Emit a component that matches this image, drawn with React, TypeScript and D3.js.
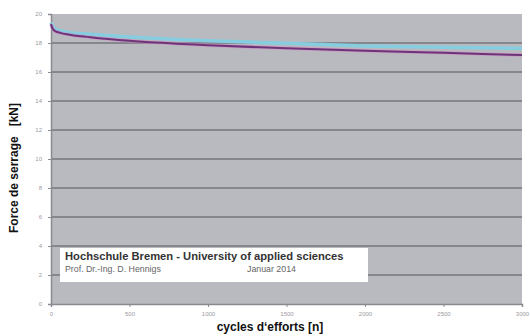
import { useEffect, useRef } from "react";
import * as d3 from "d3";

// data
const cycles = [0, 10, 30, 60, 100, 250, 500, 800, 1000, 1500, 2000, 2500, 3000];
const forcePurple = [19.3, 19.0, 18.8, 18.7, 18.6, 18.4, 18.15, 17.95, 17.85, 17.63, 17.47, 17.32, 17.17];
const forceCyan = [19.4, 19.15, 18.95, 18.85, 18.75, 18.6, 18.42, 18.24, 18.15, 17.98, 17.8, 17.7, 17.63];
const yTicks = [0, 2, 4, 6, 8, 10, 12, 14, 16, 18, 20];
const xTicks = [0, 500, 1000, 1500, 2000, 2500, 3000];

const W = 530;
const H = 336;
const FONT = "Liberation Sans, Arial, sans-serif";

export default function App() {
	const ref = useRef<SVGSVGElement>(null);

	useEffect(() => {
		const svg = d3.select(ref.current);
		svg.selectAll("*").remove();

		const margin = { top: 14, right: 8, bottom: 32, left: 51 };
		const x = d3.scaleLinear().domain([0, 3000]).range([margin.left, W - margin.right]);
		const y = d3.scaleLinear().domain([0, 20]).range([H - margin.bottom, margin.top]);

		// plot background
		svg
			.append("rect")
			.attr("x", x(0))
			.attr("y", y(20))
			.attr("width", x(3000) - x(0))
			.attr("height", y(0) - y(20))
			.attr("fill", "#b9babf");

		// gridlines
		svg
			.selectAll("line.grid")
			.data(yTicks.filter((d) => d > 0 && d < 20))
			.enter()
			.append("line")
			.attr("class", "grid")
			.attr("x1", x(0))
			.attr("x2", x(3000))
			.attr("y1", (d) => y(d))
			.attr("y2", (d) => y(d))
			.attr("stroke", "#75767c")
			.attr("stroke-width", 1.6);

		// axes
		const gy = svg
			.append("g")
			.attr("transform", `translate(${x(0)},0)`)
			.call(d3.axisLeft(y).tickValues(yTicks).tickSize(3).tickPadding(6));
		const gx = svg
			.append("g")
			.attr("transform", `translate(0,${y(0)})`)
			.call(
				d3
					.axisBottom(x)
					.tickValues(xTicks)
					.tickSize(3)
					.tickPadding(5)
					.tickFormat((d) => String(d)),
			);
		[gx, gy].forEach((g) => {
			g.select(".domain").attr("stroke", "#8a8b90").attr("stroke-width", 1.5);
			g.selectAll(".tick line").attr("stroke", "#8a8b90");
			g.selectAll("text").attr("fill", "#9a9a9e").attr("font-size", 6).attr("font-family", FONT);
		});

		// curves
		const line = (vals: number[]) =>
			d3
				.line<number>()
				.x((_, i) => x(cycles[i]))
				.y((d) => y(d))
				.curve(d3.curveMonotoneX)(vals);

		svg
			.append("path")
			.attr("d", line(forceCyan))
			.attr("fill", "none")
			.attr("stroke", "#86cde0")
			.attr("stroke-width", 3.5);
		svg
			.append("path")
			.attr("d", line(forcePurple))
			.attr("fill", "none")
			.attr("stroke", "#d08ac8")
			.attr("stroke-width", 3.5)
			.attr("opacity", 0.6);
		svg
			.append("path")
			.attr("d", line(forcePurple))
			.attr("fill", "none")
			.attr("stroke", "#6e3478")
			.attr("stroke-width", 2);

		// info box
		const box = svg.append("g").attr("transform", "translate(60,248)");
		box.append("rect").attr("width", 308).attr("height", 34).attr("fill", "#ffffff");
		box
			.append("text")
			.attr("x", 5)
			.attr("y", 12)
			.attr("font-family", FONT)
			.attr("font-weight", "bold")
			.attr("font-size", 11.2)
			.attr("fill", "#333")
			.text("Hochschule Bremen - University of applied sciences");
		box
			.append("text")
			.attr("x", 5)
			.attr("y", 24)
			.attr("font-family", FONT)
			.attr("font-size", 8.8)
			.attr("fill", "#666")
			.text("Prof. Dr.-Ing. D. Hennigs");
		box
			.append("text")
			.attr("x", 187)
			.attr("y", 24)
			.attr("font-family", FONT)
			.attr("font-size", 8.8)
			.attr("fill", "#666")
			.text("Januar 2014");

		// titles
		svg
			.append("text")
			.attr("transform", `translate(18,${(y(0) + y(20)) / 2 + 9}) rotate(-90)`)
			.attr("text-anchor", "middle")
			.attr("font-family", FONT)
			.attr("font-weight", "bold")
			.attr("font-size", 12)
			.attr("fill", "#111")
			.attr("xml:space", "preserve")
			.style("white-space", "pre")
			.text("Force de serrage   [kN]");
		svg
			.append("text")
			.attr("x", 270)
			.attr("y", 331)
			.attr("text-anchor", "middle")
			.attr("font-family", FONT)
			.attr("font-weight", "bold")
			.attr("font-size", 12)
			.attr("fill", "#111")
			.text("cycles d\u2018efforts [n]");
	}, []);

	return (
		<div style={{ position: "absolute", left: 0, top: 0 }}>
			<svg ref={ref} width={W} height={H} style={{ display: "block", background: "#fff" }} />
		</div>
	);
}
